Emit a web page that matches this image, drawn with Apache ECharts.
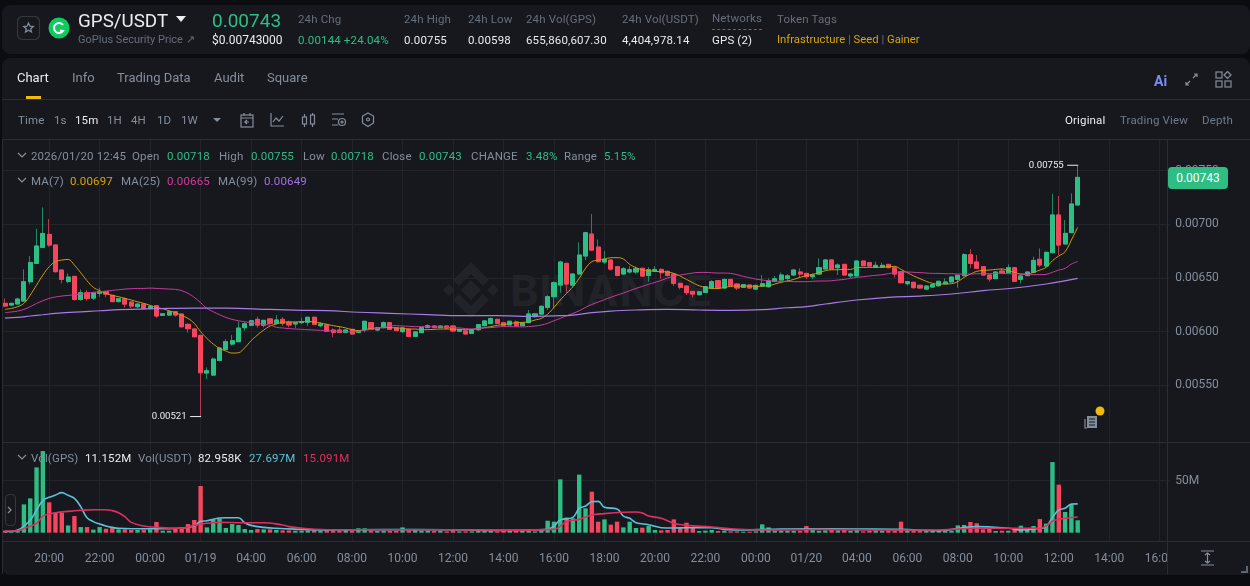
<!DOCTYPE html>
<html>
<head>
<meta charset="utf-8">
<title>GPS/USDT</title>
<script src="https://cdn.jsdelivr.net/npm/echarts@6/dist/echarts.min.js"></script>
<style>
    html, body { margin: 0; padding: 0; background: #0b0c0f; width: 1250px; height: 586px; overflow: hidden; }
    body { font-family: Roboto, "Noto Sans", sans-serif; font-size: 12px; color: #848e9c; }
    .panel { position: absolute; background: #17181e; border-radius: 8px; }
    .t { position: absolute; line-height: 20px; height: 20px; white-space: nowrap; z-index: 3; }
    .hr { position: absolute; background: #2a2d33; height: 1px; z-index: 3; }
    .g { color: #2ebd85; }
    .w { color: #eaecef; }
    .d { color: #666e7a; }
    .s { font-size: 11.5px; letter-spacing: .15px; }
    .ic { position: absolute; z-index: 3; fill: none; stroke: #848e9c; stroke-width: 1.2; }
    #main { position: absolute; left: 0; top: 0; width: 1250px; height: 586px; z-index: 2; }
    #mask { position: absolute; left: 1168px; top: 542px; width: 82px; height: 32px; background: #17181e; z-index: 3; }
    #tag { position: absolute; left: 1168px; top: 167px; width: 60px; height: 22px; line-height: 23px; text-align: center;
           background: #2ebd85; color: #fff; border-radius: 4px; z-index: 4; }
    #mark { position: absolute; left: 510px; top: 268px; font: bold 43px/44px Inter, sans-serif; color: #212329; letter-spacing: 1px; z-index: 1; }
</style>
</head>
<body>
<div class="panel" style="left:2px;top:5px;width:1248px;height:49px"></div>
<div class="panel" style="left:2px;top:58px;width:1248px;height:517px"></div>

<!-- header -->
<svg class="ic" style="left:17px;top:16px" width="24" height="25"><rect x=".5" y=".5" width="22" height="23" rx="5" stroke="#333840"/><path d="M11.5 7l1.4 3.2 3.4.3-2.6 2.2.8 3.3-3-1.8-3 1.8.8-3.3-2.6-2.2 3.4-.3z"/></svg>
<svg style="position:absolute;left:48px;top:17px;z-index:3" width="22" height="22"><circle cx="11" cy="11" r="10.5" fill="#0ecb5f"/><path d="M15 8a5 5 0 1 0 0 6l-3-.5" fill="none" stroke="#fff" stroke-width="2"/></svg>
<div class="t w" style="left:78px;top:11px;font-size:18.8px">GPS/USDT</div>
<svg style="position:absolute;left:176px;top:16px;z-index:3" width="10" height="7"><path d="M0 0h10L5 6z" fill="#eaecef"/></svg>
<div class="t d" style="left:78px;top:30px;font-size:11px">GoPlus Security Price ↗</div>
<div class="t g" style="left:212px;top:11px;font-size:19px">0.00743</div>
<div class="t w" style="left:212px;top:30px">$0.00743000</div>
<div class="t d s" style="left:298px;top:9px">24h Chg</div>
<div class="t g s" style="left:298px;top:30px">0.00144 +24.04%</div>
<div class="t d s" style="left:404px;top:9px">24h High</div>
<div class="t w s" style="left:404px;top:30px">0.00755</div>
<div class="t d s" style="left:468px;top:9px">24h Low</div>
<div class="t w s" style="left:468px;top:30px">0.00598</div>
<div class="t d s" style="left:526px;top:9px">24h Vol(GPS)</div>
<div class="t w s" style="left:526px;top:30px">655,860,607.30</div>
<div class="t d s" style="left:622px;top:9px">24h Vol(USDT)</div>
<div class="t w s" style="left:622px;top:30px">4,404,978.14</div>
<div class="t d s" style="left:712px;top:8px">Networks</div>
<div style="position:absolute;left:712px;top:29px;width:50px;border-top:1px dashed #5e6673;z-index:3"></div>
<div class="t w s" style="left:712px;top:30px">GPS (2)</div>
<div class="t d s" style="left:777px;top:9px">Token Tags</div>
<div class="t" style="left:777px;top:30px;font-size:11.3px;color:#d9a406">Infrastructure <span class="d">|</span> Seed <span class="d">|</span> Gainer</div>

<!-- tabs -->
<div class="t w" style="left:17px;top:68px;font-size:13px">Chart</div>
<div class="t" style="left:72px;top:68px;font-size:13px">Info</div>
<div class="t" style="left:117px;top:68px;font-size:13px">Trading Data</div>
<div class="t" style="left:214px;top:68px;font-size:13px">Audit</div>
<div class="t" style="left:267px;top:68px;font-size:13px">Square</div>
<div style="position:absolute;left:26px;top:96px;width:15px;height:3px;background:#f0b90b;z-index:3"></div>
<div class="hr" style="left:2px;top:99px;width:1248px"></div>
<div class="t" style="left:1154px;top:71px;font-size:14px;font-weight:bold;color:#7d8cf5">Ai</div>
<svg class="ic" style="left:1184px;top:72px" width="15" height="15"><path d="M2 13l4-4M9 6l4-4M10 2h3v3M2 10v3h3"/></svg>
<svg class="ic" style="left:1215px;top:71px" width="17" height="17"><rect x="1" y="1" width="6" height="6"/><path d="M12.5 .5l3.5 3.5-3.5 3.5L9 4z"/><rect x="1" y="10" width="6" height="6"/><rect x="10" y="10" width="6" height="6"/></svg>

<!-- interval toolbar -->
<div class="t s" style="left:18px;top:110px">Time</div>
<div class="t s" style="left:54px;top:110px">1s</div>
<div class="t s w" style="left:75px;top:110px">15m</div>
<div class="t s" style="left:107px;top:110px">1H</div>
<div class="t s" style="left:131px;top:110px">4H</div>
<div class="t s" style="left:157px;top:110px">1D</div>
<div class="t s" style="left:181px;top:110px">1W</div>
<svg style="position:absolute;left:213px;top:118px;z-index:3" width="9" height="5"><path d="M0 0h8L4 4z" fill="#848e9c"/></svg>
<svg class="ic" style="left:240px;top:112px" width="15" height="16"><rect x="1" y="3" width="12" height="12"/><path d="M4 1v3M10 1v3M1 6h12M9 10H5l2-2M5 10l2 2"/></svg>
<svg class="ic" style="left:270px;top:112px" width="15" height="16"><path d="M1 1v13h13M3 10l3-4 3 3 4-5"/></svg>
<svg class="ic" style="left:301px;top:112px" width="15" height="16"><rect x="1.5" y="5" width="4" height="7"/><path d="M3.5 2v3M3.5 12v3"/><rect x="9.5" y="3" width="4" height="9"/><path d="M11.5 1v2M11.5 12v3"/></svg>
<svg class="ic" style="left:331px;top:112px" width="16" height="16"><path d="M1 2h12M1 7h6M1 13h6"/><circle cx="11" cy="10" r="3.5"/><circle cx="11" cy="10" r="1"/></svg>
<svg class="ic" style="left:361px;top:112px" width="15" height="16"><path d="M7 1l5.5 3v7L7 14.5 1.5 11V4z"/><circle cx="7" cy="7.5" r="1.5"/></svg>
<div class="t s w" style="left:1065px;top:110px">Original</div>
<div class="t s" style="left:1120px;top:110px;color:#707a8a">Trading View</div>
<div class="t s" style="left:1202px;top:110px;color:#707a8a">Depth</div>
<div class="hr" style="left:2px;top:139px;width:1248px"></div>

<!-- pane legends -->
<svg class="ic" style="left:17px;top:152px" width="10" height="8"><path d="M1 1l4 4 4-4"/></svg>
<div class="t s" style="left:31px;top:146px">2026/01/20 12:45</div>
<div class="t s" style="left:132px;top:146px">Open</div><div class="t s g" style="left:167px;top:146px">0.00718</div>
<div class="t s" style="left:219px;top:146px">High</div><div class="t s g" style="left:251px;top:146px">0.00755</div>
<div class="t s" style="left:303px;top:146px">Low</div><div class="t s g" style="left:331px;top:146px">0.00718</div>
<div class="t s" style="left:382px;top:146px">Close</div><div class="t s g" style="left:419px;top:146px">0.00743</div>
<div class="t s" style="left:471px;top:146px">CHANGE</div><div class="t s g" style="left:526px;top:146px">3.48%</div>
<div class="t s" style="left:564px;top:146px">Range</div><div class="t s g" style="left:604px;top:146px">5.15%</div>
<svg class="ic" style="left:17px;top:177px" width="10" height="8"><path d="M1 1l4 4 4-4"/></svg>
<div class="t s" style="left:31px;top:171px">MA(7)</div><div class="t s" style="left:70px;top:171px;color:#d9a406">0.00697</div>
<div class="t s" style="left:121px;top:171px">MA(25)</div><div class="t s" style="left:167px;top:171px;color:#d23a9c">0.00665</div>
<div class="t s" style="left:218px;top:171px">MA(99)</div><div class="t s" style="left:264px;top:171px;color:#a56fe0">0.00649</div>
<svg class="ic" style="left:17px;top:454px" width="10" height="8"><path d="M1 1l4 4 4-4"/></svg>
<div class="t s" style="left:31px;top:448px">Vol(GPS)</div><div class="t s w" style="left:85px;top:448px">11.152M</div>
<div class="t s" style="left:138px;top:448px">Vol(USDT)</div><div class="t s w" style="left:198px;top:448px">82.958K</div>
<div class="t s" style="left:249px;top:448px;color:#5bc3d9">27.697M</div>
<div class="t s" style="left:303px;top:448px;color:#e0305f">15.091M</div>

<!-- watermark, sits under the chart canvas -->
<svg style="position:absolute;left:443px;top:262px;z-index:1" width="56" height="56"><g fill="#212329"><path d="M28 18l10 10-10 10-10-10zM6 22l6 6-6 6-6-6zM50 22l6 6-6 6-6-6z"/><path d="M28 0l18 18-6 6-12-12-12 12-6-6zM28 56L10 38l6-6 12 12 12-12 6 6z"/></g></svg>
<div id="mark">BINANCE</div>

<div id="main"></div>

<div class="hr" style="left:2px;top:442px;width:1248px"></div>
<div class="hr" style="left:2px;top:541px;width:1248px"></div>
<div style="position:absolute;left:1167px;top:140px;width:1px;height:434px;background:#2a2d33;z-index:3"></div>
<div style="position:absolute;left:2px;top:140px;width:1px;height:434px;background:#2a2d33;z-index:3"></div>
<div id="mask"></div>
<div id="tag">0.00743</div>
<svg class="ic" style="left:1200px;top:550px;z-index:4" width="15" height="16"><path d="M1 1h13M1 15h13M7.5 3v10M5 5l2.5-2L10 5M5 11l2.5 2 2.5-2"/></svg>
<svg style="position:absolute;left:1240px;top:565px;z-index:4" width="8" height="8"><path d="M7 1v6H1" fill="none" stroke="#5e6673" stroke-width="2"/></svg>
<div style="position:absolute;left:5px;top:494px;width:9px;height:30px;border:1px solid #333840;border-radius:4px;z-index:3"></div>
<svg class="ic" style="left:7px;top:506px" width="6" height="8"><path d="M1 1l3 3-3 3"/></svg>
<svg style="position:absolute;left:1095px;top:406px;z-index:4" width="10" height="10"><circle cx="5" cy="5" r="4.5" fill="#f0b90b"/></svg>
<svg class="ic" style="left:1083px;top:415px" width="16" height="15"><rect x="4" y="1" width="10" height="12" fill="#848e9c" stroke="none"/><path d="M6 4h6M6 7h6M6 10h6" stroke="#17181e"/><path d="M2 4v9h2"/></svg>

<script type="text/javascript">
    var PRICE_UNIT = 1e-5;
    var VOL_UNIT = 1e6;
    var FUTURE_BARS = 14;

    var opens = [
        626.4, 624.8, 625.8, 628.5, 646.5, 663.6, 678.5, 690.6, 680.7, 657.4,
        646.8, 651.5, 630, 636.3, 631.3, 635.7, 637.2, 633.8, 628, 630.7,
        627.6, 623.3, 625.7, 621.7, 624.2, 615.2, 615.5, 618.6, 616.4, 606.8,
        602.5, 596.6, 561.5, 559.6, 573.3, 583.5, 588.5, 590.7, 603.7, 606,
        611.5, 606, 611.9, 607.8, 611.5, 608.8, 607.2, 608.4, 608.8, 613.4,
        605.6, 606.3, 601.6, 601.6, 599.4, 602.2, 599.4, 602.2, 608.4, 601.6,
        603.8, 608.4, 603.5, 600.1, 602.2, 595.7, 599.1, 603.8, 605.3, 603.8,
        605.3, 605.3, 600.4, 600.7, 598.5, 601.9, 605.6, 607.5, 611.5, 608.4,
        606.3, 609.1, 605.6, 608.4, 614, 616.4, 622.6, 632.6, 643.4, 663.6,
        643.4, 653.7, 670.5, 690.9, 678.8, 664.9, 666.7, 660.5, 653.7, 655.6,
        655.6, 659, 652.4, 656.5, 658, 656.2, 653.7, 645, 642.5, 637.5,
        634.4, 636.6, 640.7, 647.5, 640.7, 648.7, 644.4, 641.3, 643.5, 639.7,
        642.5, 641.9, 646.9, 648.1, 649.5, 652.8, 655.6, 654.3, 651.2, 653.7,
        658.4, 666.8, 659.6, 662.7, 651.9, 651.9, 665.8, 664.3, 659.9, 659.9,
        662.7, 659.6, 655.9, 644.7, 646, 643.2, 639.7, 641.6, 642.8, 644.7,
        646.3, 648.7, 652.2, 671.7, 664.9, 660.5, 652.8, 649.4, 656.5, 655,
        659.6, 648.7, 652.2, 655.3, 667.4, 661.2, 673.6, 708.7, 681.7, 692.2,
        718
    ];
    var closes = [
        623.9, 626.4, 630.4, 646.5, 664.5, 679.8, 691.5, 680.7, 655.9, 648.7,
        650.9, 630, 636.3, 631, 636.3, 637.2, 635, 628, 630.7, 625.7,
        623.9, 625.7, 621.7, 623.6, 614.6, 616.7, 618.6, 615.5, 604.6, 602.8,
        595.3, 561.8, 563.7, 574.5, 584.8, 590.7, 591.6, 603.4, 607.4, 610.2,
        606.2, 610.6, 607.8, 610.9, 607.8, 606.3, 608.4, 609.1, 613.4, 606.9,
        607.2, 600.4, 599.4, 599.4, 601.6, 597.9, 601, 609.7, 602.2, 603.5,
        608.4, 602.2, 601, 603.5, 595.7, 599.8, 603.8, 605.6, 603.8, 605.3,
        603.5, 600.7, 601.9, 597.9, 601.6, 606.6, 610, 612.2, 607.8, 606,
        609.7, 605.6, 608.1, 616.5, 616.6, 623.6, 632.6, 645.6, 664.9, 644.4,
        653.7, 671.4, 692.2, 676, 665.2, 667.4, 658.3, 652.4, 658.6, 657.7,
        658.6, 651.8, 657.7, 658, 654.9, 652.4, 645, 641.3, 636.3, 635,
        637.2, 641.9, 646.6, 640.7, 648.7, 643.1, 640.7, 643.8, 640.7, 643.1,
        644.7, 647.2, 649.3, 652.8, 652, 657.4, 653.7, 651.2, 652.8, 659.6,
        666.8, 658.4, 662.1, 652.8, 653.7, 665.8, 661.5, 661.2, 661.8, 661.8,
        659.6, 653.7, 645.6, 646.6, 641, 640.7, 642.5, 643.8, 646.9, 646.3,
        650.9, 652.5, 671.7, 663.6, 659, 652.8, 649.1, 655.6, 655, 659.6,
        646.9, 651.9, 655.6, 666.4, 662.1, 673.9, 708.7, 680.7, 691.6, 718.9,
        743.7
    ];
    var highs = [
        631, 626.5, 631.6, 658, 670.4, 696, 715.8, 704.9, 681, 658,
        654.3, 652, 639.4, 638.8, 637.2, 641, 638, 634.5, 631.5, 632,
        628, 627, 626, 624, 625, 617, 619, 619, 617, 608,
        603, 597, 566.8, 575.8, 585.5, 593, 597, 609.3, 609, 611,
        614, 611, 612.5, 615.6, 613.4, 610.3, 608.8, 613.1, 614, 614,
        608.8, 607, 603.2, 605.3, 602, 602.5, 601.5, 610, 609, 604,
        609.5, 609, 604, 604.5, 603, 600.5, 604.5, 606.9, 606, 605.6,
        605.6, 605.8, 602.3, 601, 602, 607, 610.5, 613.4, 612, 608.8,
        610.3, 610.3, 608.5, 620.2, 617, 624.5, 634, 647, 666, 664.5,
        654.5, 683.2, 693, 709.6, 686, 675.1, 667.5, 661, 660, 661,
        660.8, 659.5, 660, 661, 659, 657, 654.5, 645.5, 643, 638,
        638, 642.5, 648, 648, 649.3, 649, 645, 644.5, 644, 644,
        652.8, 649.7, 651.8, 655.2, 653.5, 658.5, 659, 654.5, 654.3, 668.2,
        667.5, 667.5, 663.6, 663, 655, 666.5, 666.3, 665, 665.2, 664.3,
        663, 660, 656.5, 647, 646.5, 643.5, 643, 644.5, 647.5, 649.7,
        651.5, 653, 673, 677, 671.4, 661, 653, 656.5, 659, 662.7,
        660, 652.5, 656, 669.9, 677.6, 674.5, 728.2, 726.4, 704, 728.8,
        755
    ];
    var lows = [
        623, 624.5, 625, 628, 644, 663, 678, 679.1, 655, 645,
        645, 629, 628.8, 628.8, 629.5, 632.6, 632, 627.5, 627.5, 622.6,
        622, 622, 621, 621, 613, 615, 615, 614, 604, 599,
        595, 521, 555.9, 559, 572.5, 583, 587, 590, 601, 605,
        603.7, 604, 607, 607, 605.3, 604.1, 603.2, 607.2, 605.3, 606.5,
        604.1, 600, 594.8, 599, 599, 597.5, 599, 599.4, 601.8, 600.5,
        603, 602, 601, 598.8, 595, 595, 598.8, 603.5, 603.5, 603.5,
        603, 599.4, 600, 597.5, 598, 600.7, 605, 607, 607.5, 605.6,
        606, 605, 605.3, 608, 613, 616, 620.2, 621.7, 636.3, 636.3,
        641.3, 653, 666.7, 675, 664.5, 663, 657, 651.5, 653, 654,
        654, 651, 646.6, 655.5, 649.3, 651.5, 642.5, 639.4, 634.1, 632,
        634, 636, 640, 640, 640, 642.5, 638.8, 640.7, 640, 639,
        642, 641, 646, 648, 646.6, 652, 650.6, 649, 649, 653,
        658, 658, 652.8, 652.3, 650, 651.5, 661, 660.5, 659.5, 659.5,
        659, 650.3, 645, 642.9, 640, 640, 639, 641, 642, 644,
        646, 641, 651.5, 659, 658.5, 652, 646.6, 649, 654.5, 654.5,
        646.5, 645, 651.8, 654.3, 660, 660, 673, 671.4, 681, 692,
        718
    ];
    var ma7 = [
        620.8, 621.7, 623.3, 626.4, 634.1, 643.4, 652.7, 660.5, 665.2, 666.7,
        667.3, 662, 654.9, 647.5, 641.3, 638.2, 635.7, 633.8, 632.6, 631,
        629.5, 627.9, 626.4, 624.5, 622.6, 621.4, 619.5, 617.7, 615.2, 612.4,
        607.7, 600, 593.8, 588.5, 584.5, 582, 580.1, 580.4, 585.1, 591.6,
        596.9, 601.5, 605.3, 607.2, 608.8, 609.1, 609.1, 609.4, 609.4, 609.1,
        608.1, 606.9, 605.6, 604.7, 603.5, 601.9, 601, 601.9, 602.9, 603.5,
        603.8, 603.8, 603.5, 603.2, 602.5, 602.5, 601.9, 601.9, 602.2, 602.5,
        602.5, 602.5, 602.2, 601.9, 602.2, 602.9, 603.8, 604.7, 606, 606.6,
        607.5, 608.4, 608.6, 609.3, 610.9, 612.4, 616.4, 622.6, 629.5, 635.7,
        641.9, 649.7, 659, 665.2, 666.7, 667.7, 668.9, 668.9, 667.7, 662.7,
        659.6, 657.7, 656.8, 656.2, 655.9, 655.6, 654.3, 651.8, 648.7, 645.6,
        642.8, 641.3, 640.3, 640.3, 641.3, 642.2, 642.5, 642.5, 642.5, 642.2,
        642.5, 642.8, 644.4, 646, 647.2, 648.7, 650.6, 652.2, 653.4, 655,
        656.8, 657.7, 657.7, 658, 658, 659.9, 659.9, 659.9, 659.9, 660.2,
        660.5, 660.9, 658, 655, 651.9, 649.4, 646.9, 645, 644.4, 644.4,
        644.7, 646.6, 650.6, 653.7, 656.2, 657.1, 657.4, 658, 658.4, 656.8,
        655.3, 653.7, 653.7, 655.3, 657.4, 659.9, 666.1, 670.5, 674.5, 685.4,
        697.2
    ];
    var ma25 = [
        617.7, 618.4, 619.2, 620.8, 623.3, 626.3, 628.8, 631, 632.3, 633.2,
        633.8, 634.4, 635, 635.7, 636.6, 637.2, 637.8, 638.5, 639.1, 639.7,
        640, 640.3, 640.3, 640.6, 640.3, 640, 639.7, 639.4, 638.2, 635.7,
        631.9, 627, 621.7, 618.6, 615.8, 613.3, 611.5, 610.2, 609.3, 608.4,
        607.7, 606.8, 606.2, 604.1, 603.5, 602.9, 602.5, 602.2, 601.9, 601.6,
        601.3, 601, 600.7, 600.4, 600.1, 599.8, 600.4, 601.3, 602.2, 603.2,
        604.1, 605.3, 605.6, 605.3, 605, 604.7, 604.7, 604.7, 604.4, 604.4,
        604.1, 603.8, 603.5, 602.9, 602.5, 602.9, 603.5, 603.8, 604.4, 604.8,
        604.7, 604.6, 604.5, 604.8, 605.3, 606.2, 607.8, 610.2, 612.4, 614.9,
        617, 619.5, 622.6, 625.4, 627.6, 629.8, 632, 634.1, 636, 638.2,
        640.3, 642.2, 644.1, 645.9, 647.8, 650, 651.5, 652.8, 653.7, 654.6,
        655.2, 655.2, 654.9, 654.6, 654.6, 654.3, 653.1, 651.5, 650.3, 649,
        648.1, 647.5, 647.2, 646.9, 646.9, 646.6, 646.6, 646.6, 646.9, 647.2,
        647.2, 647.5, 648.1, 648.7, 649.7, 650.6, 651.2, 651.9, 652.5, 653.1,
        654, 655, 655.6, 655.6, 655.3, 655, 654.6, 654.3, 654.3, 654,
        654, 653.7, 653.7, 653.7, 654, 654, 654, 654.3, 654.3, 654,
        654, 653.7, 653.1, 653.1, 653.1, 653.4, 655.3, 657.4, 659, 663,
        665.3
    ];
    // [bar index, value] read at points along the smooth curves
    var ma99 = [
        [0, 612.7], [2, 613.3], [4, 614.6], [6, 615.8], [8, 617], [11, 618.3], [15, 619.5], [18, 620.5],
        [24, 621.4], [30, 622], [35, 622], [42, 620.7], [47, 619.9], [51, 619.6], [56, 618.1], [61, 617.1],
        [67, 615.9], [72, 615], [78, 615], [82, 614.3], [88, 614.9], [90, 615.5], [93, 617.7], [96, 619.2],
        [100, 620.2], [105, 620.8], [110, 620.2], [115, 619.9], [120, 620.5], [124, 622.3], [127, 623.3],
        [130, 625.8], [135, 629.5], [140, 632], [145, 633.2], [150, 635.1], [155, 638.2], [160, 640.7],
        [165, 644.4], [170, 649.6]
    ];
    // volumes in millions
    var volumes = [
        2, 1.6, 2.6, 27.2, 33, 62.8, 78.5, 29.2, 19.2, 19.2,
        7, 16, 5.4, 5.4, 2.9, 5.4, 3.8, 5.1, 3.2, 3.2,
        2.6, 2.6, 2.9, 3.2, 10.3, 1.9, 1.9, 3.8, 4.5, 8.3,
        12.2, 44.9, 5.1, 12.2, 13.5, 4.5, 8.3, 7.4, 3.5, 2.6,
        3.5, 3.2, 3.2, 2.6, 2.2, 2.2, 1.9, 1.9, 2.2, 2.2,
        1.9, 3.2, 2.2, 1.9, 3.5, 1.9, 4.2, 4.2, 2.2, 1.6,
        1.9, 1.6, 1.6, 5.1, 1.9, 2.6, 1.9, 1.9, 1.6, 1.9,
        1.3, 2.2, 1.3, 1.3, 1.3, 1.6, 1.6, 1.6, 1.3, 1.6,
        1.9, 2.6, 1.6, 3.2, 1.3, 3.2, 11.5, 10.6, 51.3, 14.7,
        13.8, 55.8, 23.4, 39.4, 10.6, 12.8, 7.7, 10.6, 5.1, 10.6,
        4.5, 4.8, 6.4, 2.6, 2.2, 2.6, 12.8, 5.1, 9.6, 4.5,
        1.6, 1.9, 2.6, 1.6, 1.9, 1.3, 1.3, 1, 1, 1.3,
        8, 5.1, 1.9, 1.9, 1.9, 1.9, 1.9, 6.4, 2.6, 1.9,
        2.2, 3.2, 2.2, 2.6, 1.9, 2.6, 1.3, 1.9, 2.2, 1.9,
        2.2, 1.9, 10.6, 1.9, 1.9, 1.9, 2.2, 1.9, 1.6, 1.9,
        1.6, 7, 7.4, 10.3, 9, 3.2, 4.2, 1.6, 1.9, 1.9,
        2.6, 6.7, 2.6, 6.4, 13.1, 8.7, 67.9, 46.2, 19.9, 27.6,
        11.9
    ];
    var volMaFast = [
        [0, 1], [2, 2.6], [4, 12.2], [5, 21.8], [6, 30.8], [7, 34], [8, 36.2], [9, 38.5], [10, 35.9], [11, 33],
        [12, 25], [13, 14.4], [14, 10.6], [15, 8.3], [16, 6.4], [17, 5.1], [18, 4.2], [20, 3.8], [23, 3.8], [26, 3.8],
        [28, 4.5], [30, 6.4], [31, 10.9], [32, 11.5], [33, 12.8], [34, 14.1], [35, 14.4], [37, 14.4], [38, 9.6], [39, 7],
        [41, 5.1], [43, 4.2], [47, 3.2], [50, 2.6], [60, 3], [70, 2.8], [80, 2.2], [86, 3.2], [87, 6.4], [88, 12.2],
        [90, 14.7], [91, 23.4], [92, 25.6], [93, 29.8], [94, 30.1], [95, 24.4], [97, 22.8], [98, 16], [99, 13.8], [100, 9.6],
        [102, 7.7], [104, 4.8], [106, 4.5], [108, 4.8], [112, 4.8], [114, 3.2], [117, 2.6], [121, 3.2], [127, 3.8], [135, 3.5],
        [142, 3.2], [148, 2], [154, 5.8], [159, 4.2], [161, 2.6], [164, 4.2], [165, 5.8], [166, 14.7], [167, 21.8], [168, 23.4],
        [169, 27.6], [170, 27.7]
    ];
    var volMaSlow = [
        [0, 1.6], [2, 1.9], [3, 4], [5, 9], [6, 16], [7, 17.9], [8, 19.2], [10, 20.5], [12, 21.5], [14, 22.1],
        [16, 22.1], [17, 21.2], [18, 19.2], [19, 15.4], [20, 9.9], [22, 6.4], [24, 5.1], [28, 4.2], [30, 7], [32, 9],
        [34, 9.9], [37, 9.6], [41, 9.6], [44, 7.4], [45, 5.8], [48, 3.8], [52, 2.8], [60, 2.8], [70, 2.8], [80, 2.4],
        [87, 3.2], [89, 10.6], [91, 12.8], [93, 17], [95, 18.3], [98, 19.6], [100, 19.9], [101, 18.9], [102, 16], [104, 13.8],
        [106, 9], [108, 7], [112, 5.4], [115, 3.8], [121, 2.6], [129, 3.2], [138, 2.6], [148, 2.6], [154, 4.2], [164, 4.2],
        [165, 6.4], [166, 11.2], [167, 12.8], [168, 13.8], [169, 14.7], [170, 15.1]
    ];
    // every 8th bar gets a label, the first one is bar 7
    var tickLabels = ['20:00', '22:00', '00:00', '01/19', '04:00', '06:00', '08:00', '10:00', '12:00', '14:00', '16:00', '18:00',
        '20:00', '22:00', '00:00', '01/20', '04:00', '06:00', '08:00', '10:00', '12:00', '14:00', '16:00'];
    var priceTicks = [550, 600, 650, 700, 750];
    var volTicks = [50];

    var UP = '#2ebd85', DOWN = '#f6465d', UP_WICK = '#1f8a63', DOWN_WICK = '#b83a4d', GRID = '#212429';

    function isTick(i) {
        return i >= 7 && (i - 7) % 8 === 0;
    }
    var categories = [];
    for (var n = 0; n < opens.length + FUTURE_BARS; n++) {
        categories.push(isTick(n) ? tickLabels[(n - 7) / 8] : '');
    }
    function toPrice(v) {
        return +(v * PRICE_UNIT).toFixed(6);
    }
    function pairs(list, unit) {
        return list.map(function (p) { return [p[0], p[1] * unit]; });
    }
    function maSeries(name, data, color, width, xIndex) {
        return {
            name: name, type: 'line', xAxisIndex: xIndex, yAxisIndex: xIndex, data: data,
            smooth: 0.4, showSymbol: false, silent: true,
            lineStyle: { color: color, width: width }
        };
    }
    function extreme(index, value, offset) {
        return {
            coord: [index, toPrice(value)], symbol: 'rect', symbolSize: [11, 1], symbolOffset: [offset, 0],
            itemStyle: { color: '#eaecef' },
            label: { show: true, position: 'left', distance: 3.5, color: '#eaecef', fontSize: 9.6, formatter: toPrice(value).toFixed(5) }
        };
    }

    var candles = opens.map(function (o, i) {
        return [toPrice(o), toPrice(closes[i]), toPrice(lows[i]), toPrice(highs[i])];
    });
    // wicks are duller than the bodies, so the bodies go on top as their own series
    var bodies = opens.map(function (o, i) {
        return [toPrice(o), toPrice(closes[i]), toPrice(Math.min(o, closes[i])), toPrice(Math.max(o, closes[i]))];
    });
    var hiIndex = highs.indexOf(Math.max.apply(null, highs));
    var loIndex = lows.indexOf(Math.min.apply(null, lows));

    var xCommon = {
        type: 'category', data: categories, boundaryGap: true,
        axisLine: { show: false }, axisTick: { show: false },
        splitLine: { show: true, interval: function (i) { return isTick(i); }, alignWithLabel: true, lineStyle: { color: GRID } }
    };
    var myChart = echarts.init(document.getElementById('main'));
    myChart.setOption({
        animation: false,
        backgroundColor: 'transparent',
        textStyle: { fontFamily: 'Roboto, sans-serif' },
        grid: [
            { left: 1.85, width: 1167.35, top: 140, height: 302 },
            { left: 1.85, width: 1167.35, top: 442, height: 99 }
        ],
        xAxis: [
            Object.assign({}, xCommon, { gridIndex: 0, axisLabel: { show: false } }),
            Object.assign({}, xCommon, {
                gridIndex: 1,
                axisLabel: { show: true, interval: function (i) { return isTick(i); }, hideOverlap: false, color: '#848e9c', fontSize: 12, margin: 12 }
            })
        ],
        yAxis: [{
            gridIndex: 0, position: 'right', scale: true, min: 0.004973, max: 0.007785,
            axisLine: { show: false },
            axisTick: { show: false, customValues: priceTicks.map(toPrice) },
            axisLabel: {
                customValues: priceTicks.map(toPrice), color: '#848e9c', fontSize: 12, margin: 6,
                formatter: function (v) { return v.toFixed(5); }
            },
            splitLine: { show: true, lineStyle: { color: GRID } }
        }, {
            gridIndex: 1, position: 'right', min: -8 * VOL_UNIT, max: 87.2 * VOL_UNIT,
            axisLine: { show: false },
            axisTick: { show: false, customValues: volTicks.map(function (v) { return v * VOL_UNIT; }) },
            axisLabel: {
                customValues: volTicks.map(function (v) { return v * VOL_UNIT; }), color: '#848e9c', fontSize: 12, margin: 6,
                formatter: function (v) { return v / VOL_UNIT + 'M'; }
            },
            splitLine: { show: true, lineStyle: { color: GRID } }
        }],
        series: [{
            name: 'GPS/USDT', type: 'candlestick', xAxisIndex: 0, yAxisIndex: 0,
            data: candles, barWidth: 4.6, silent: true,
            itemStyle: { color: UP_WICK, color0: DOWN_WICK, borderColor: UP_WICK, borderColor0: DOWN_WICK, borderWidth: 1 },
            markPoint: {
                silent: true, animation: false,
                data: [extreme(hiIndex, highs[hiIndex], -5), extreme(loIndex, lows[loIndex], -5)]
            }
        }, {
            name: 'Bodies', type: 'candlestick', xAxisIndex: 0, yAxisIndex: 0,
            data: bodies, barWidth: 4.6, silent: true,
            itemStyle: { color: UP, color0: DOWN, borderColor: UP, borderColor0: DOWN, borderWidth: 1 }
        },
        maSeries('MA(7)', ma7.map(toPrice), '#cf9c0c', 1, 0),
        maSeries('MA(25)', ma25.map(toPrice), '#c93c9f', 1, 0),
        maSeries('MA(99)', pairs(ma99, PRICE_UNIT), '#a77be3', 1.2, 0),
        {
            name: 'Vol(GPS)', type: 'bar', xAxisIndex: 1, yAxisIndex: 1, barWidth: 4.4, silent: true,
            data: volumes.map(function (v, i) {
                return { value: v * VOL_UNIT, itemStyle: { color: closes[i] >= opens[i] ? UP : DOWN } };
            })
        },
        maSeries('Vol MA fast', pairs(volMaFast, VOL_UNIT), '#5bc3d9', 1.6, 1),
        maSeries('Vol MA slow', pairs(volMaSlow, VOL_UNIT), '#df2f60', 1.6, 1)
        ]
    });
</script>
</body>
</html>
